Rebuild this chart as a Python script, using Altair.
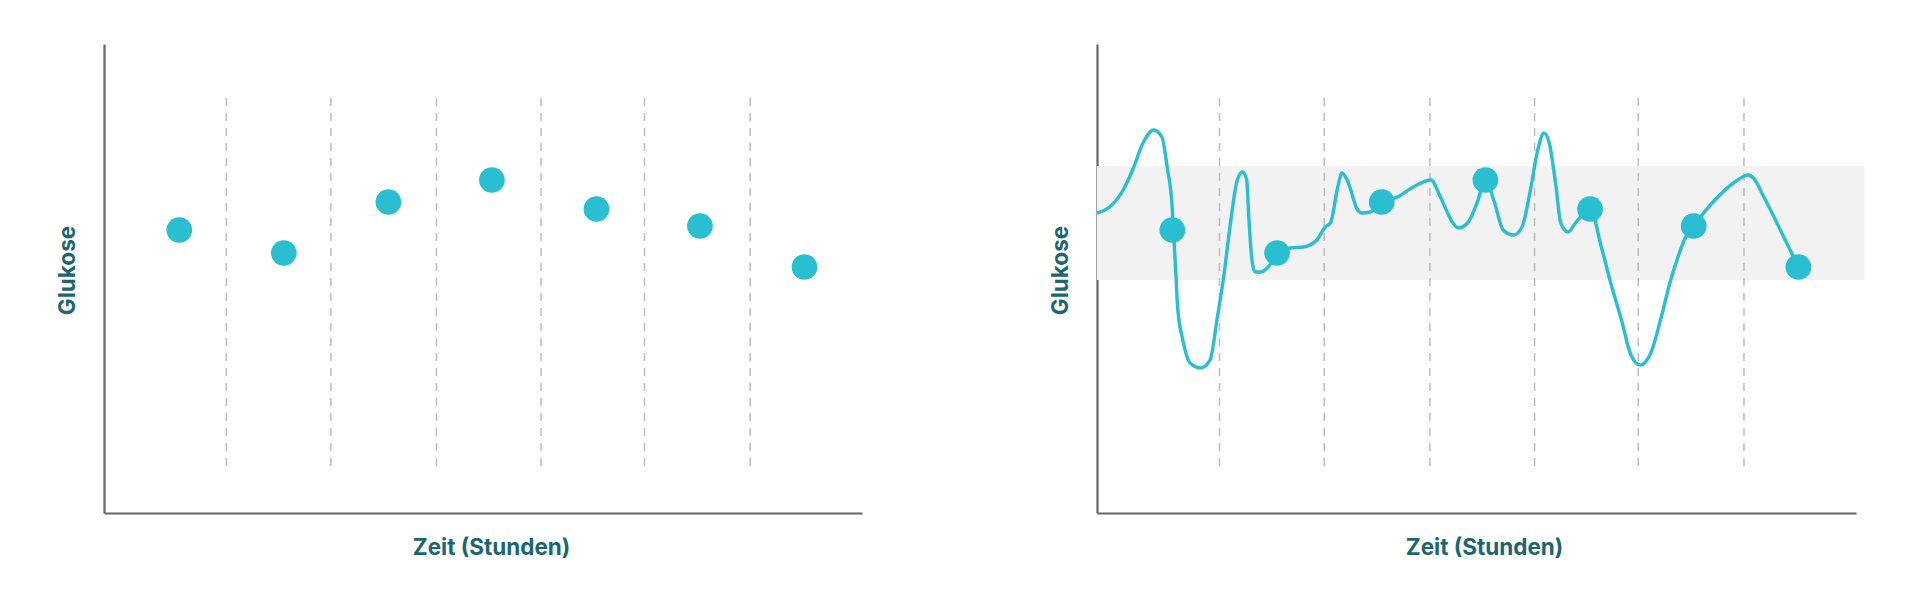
import altair as alt
import pandas as pd

# ---- data ----
point_hours = [0.72, 1.72, 2.72, 3.71, 4.71, 5.70, 6.70]
point_glucose = [283, 260, 311, 333, 304, 287, 246]

curve_hours = [0.00, 0.12, 0.25, 0.34, 0.44, 0.54, 0.62, 0.67, 0.72, 0.73, 0.75, 0.77,
               0.82, 0.89, 0.99, 1.08, 1.15, 1.21, 1.27, 1.34, 1.39, 1.43, 1.45, 1.48,
               1.51, 1.56, 1.65, 1.72, 1.85, 1.97, 2.10, 2.18, 2.23, 2.30, 2.34, 2.39,
               2.49, 2.53, 2.61, 2.72, 2.87, 3.02, 3.19, 3.28, 3.40, 3.45, 3.54, 3.63,
               3.71, 3.79, 3.88, 3.98, 4.06, 4.14, 4.21, 4.27, 4.32, 4.38, 4.43, 4.50,
               4.57, 4.71, 4.82, 4.91, 5.01, 5.10, 5.19, 5.29, 5.39, 5.48, 5.55, 5.61,
               5.70, 5.93, 6.12, 6.22, 6.27, 6.37, 6.56, 6.70]
curve_glucose = [300, 306, 323, 343, 370, 383, 376, 346, 303, 283, 246, 206,
                 173, 150, 145, 153, 196, 236, 286, 333, 341, 333, 296, 253,
                 241, 241, 248, 260, 265, 266, 273, 286, 290, 326, 340, 333,
                 303, 300, 301, 311, 316, 326, 333, 316, 290, 285, 290, 310,
                 333, 313, 283, 278, 286, 323, 363, 380, 370, 330, 290, 281,
                 290, 304, 265, 229, 193, 158, 148, 160, 196, 233, 256, 273,
                 287, 316, 333, 338, 335, 316, 276, 246]

grid_hours = [1.17, 2.17, 3.18, 4.18, 5.17, 6.18]
grid_low, grid_high = 47, 416
band_low, band_high = 233, 347
band_start, band_end = 0.0, 7.33

X_MAX = 7.25
Y_MAX = 469

TEAL = "#29bfd0"
TEXT = "#1b6670"
AXIS = "#666666"
DASH = "#bdbdbd"
BAND = "#f2f2f2"
FONT = "Inter"
FS = 22.5

points_df = pd.DataFrame({"h": point_hours, "g": point_glucose})
curve_df = pd.DataFrame({"h": curve_hours, "g": curve_glucose})
grid_df = pd.DataFrame({"h": grid_hours, "g": [grid_low] * len(grid_hours),
                        "g2": [grid_high] * len(grid_hours)})
band_df = pd.DataFrame({"h": [band_start], "h2": [band_end], "g": [band_low], "g2": [band_high]})

x_scale = alt.Scale(domain=[0, X_MAX], nice=False, zero=False)
y_scale = alt.Scale(domain=[0, Y_MAX], nice=False, zero=False)

x_axis = alt.Axis(title="Zeit (Stunden)", labels=False, ticks=False, grid=False,
                  domainColor=AXIS, domainWidth=2.2, titleColor=TEXT, titleFont=FONT,
                  titleFontSize=FS, titleFontWeight=700, titlePadding=23, titleX=387)
y_axis = alt.Axis(title="Glukose", labels=False, ticks=False, grid=False,
                  domainColor=AXIS, domainWidth=2.2, titleColor=TEXT, titleFont=FONT,
                  titleFontSize=FS, titleFontWeight=700, titlePadding=25, titleY=226)


def X(field="h"):
    return alt.X(f"{field}:Q", scale=x_scale, axis=x_axis)


def Y(field="g"):
    return alt.Y(f"{field}:Q", scale=y_scale, axis=y_axis)


grid = alt.Chart(grid_df).mark_rule(color=DASH, strokeWidth=1.5, strokeDash=[8, 7]).encode(
    x=X(), y=Y(), y2="g2:Q")
pts = alt.Chart(points_df).mark_circle(color=TEAL, size=660, opacity=1).encode(x=X(), y=Y())
band = alt.Chart(band_df).mark_rect(color=BAND).encode(x=X(), x2="h2:Q", y=Y(), y2="g2:Q")
line = alt.Chart(curve_df).mark_line(color=TEAL, strokeWidth=3.4, interpolate="monotone").encode(
    x=X(), y=Y())

left = alt.layer(grid, pts).properties(width=758, height=469)
right = alt.layer(band, grid, line, pts).properties(width=759, height=469)

chart = alt.hconcat(left, right, spacing=187).properties(
    padding={"left": 48, "top": 36, "right": 0, "bottom": 0}
).configure(background="white").configure_view(strokeWidth=0, stroke="transparent")

chart.save("out.html", embed_options={"renderer": "svg", "actions": False})
